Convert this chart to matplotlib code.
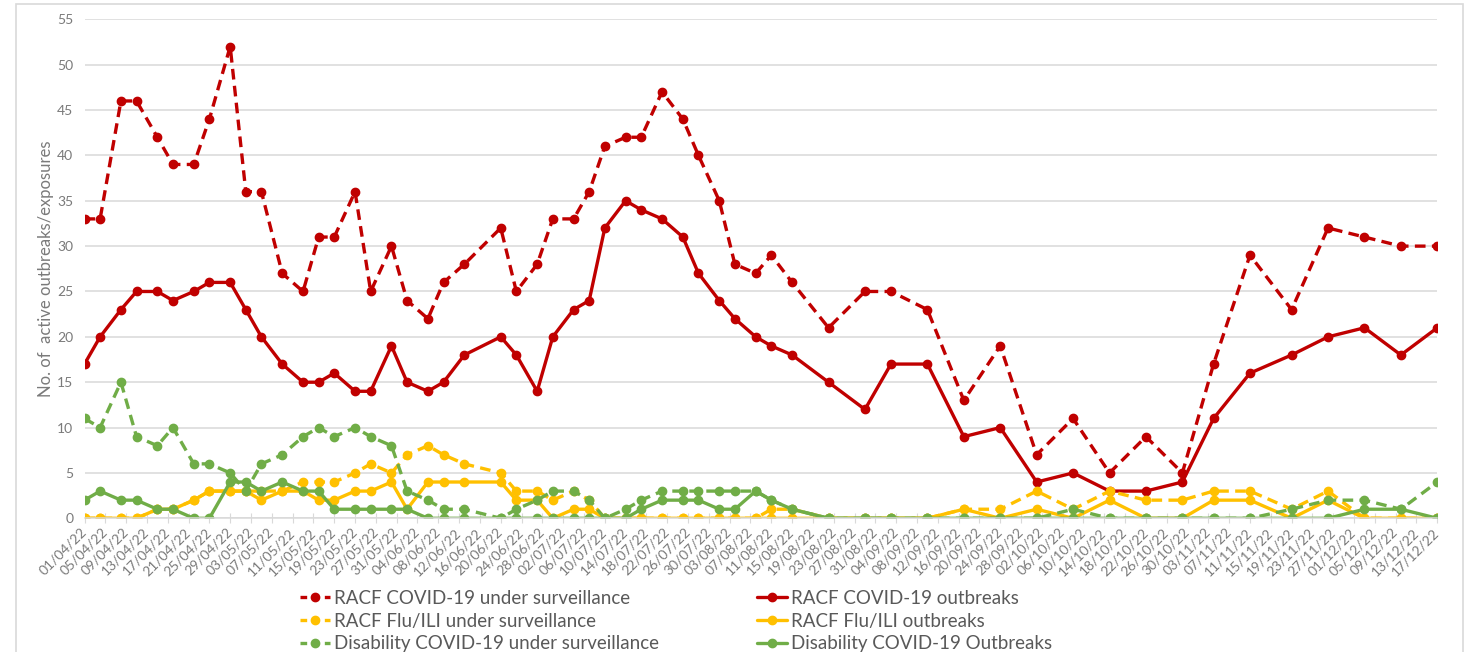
import pandas as pd
import matplotlib.pyplot as plt
from matplotlib.lines import Line2D
from matplotlib.patches import Rectangle

# reporting dates (dd/mm/yy)
dates = [
    "01/04/22", "04/04/22", "08/04/22", "11/04/22", "15/04/22", "18/04/22",
    "22/04/22", "25/04/22", "29/04/22", "02/05/22", "05/05/22", "09/05/22",
    "13/05/22", "16/05/22", "19/05/22", "23/05/22", "26/05/22", "30/05/22",
    "02/06/22", "06/06/22", "09/06/22", "13/06/22", "20/06/22", "23/06/22",
    "27/06/22", "30/06/22", "04/07/22", "07/07/22", "10/07/22", "14/07/22",
    "17/07/22", "21/07/22", "25/07/22", "28/07/22", "01/08/22", "04/08/22",
    "08/08/22", "11/08/22", "15/08/22", "22/08/22", "29/08/22", "03/09/22",
    "10/09/22", "17/09/22", "24/09/22", "01/10/22", "08/10/22", "15/10/22",
    "22/10/22", "29/10/22", "04/11/22", "11/11/22", "19/11/22", "26/11/22",
    "03/12/22", "10/12/22", "17/12/22",
]

racf_covid_surv = [
    33, 33, 46, 46, 42, 39, 39, 44, 52, 36, 36, 27, 25, 31, 31, 36, 25, 30,
    24, 22, 26, 28, 32, 25, 28, 33, 33, 36, 41, 42, 42, 47, 44, 40, 35, 28,
    27, 29, 26, 21, 25, 25, 23, 13, 19, 7, 11, 5, 9, 5, 17, 29, 23, 32,
    31, 30, 30,
]
racf_covid_outbreaks = [
    17, 20, 23, 25, 25, 24, 25, 26, 26, 23, 20, 17, 15, 15, 16, 14, 14, 19,
    15, 14, 15, 18, 20, 18, 14, 20, 23, 24, 32, 35, 34, 33, 31, 27, 24, 22,
    20, 19, 18, 15, 12, 17, 17, 9, 10, 4, 5, 3, 3, 4, 11, 16, 18, 20,
    21, 18, 21,
]
racf_flu_surv = [
    0, 0, 0, 0, 1, 1, 2, 3, 3, 3, 3, 3, 4, 4, 4, 5, 6, 5,
    7, 8, 7, 6, 5, 3, 3, 2, 3, 2, 0, 0, 0, 0, 0, 0, 0, 0,
    0, 1, 1, 0, 0, 0, 0, 1, 1, 3, 1, 3, 2, 2, 3, 3, 1, 3,
    0, 0, 0,
]
racf_flu_outbreaks = [
    0, 0, 0, 0, 1, 1, 2, 3, 3, 3, 2, 3, 3, 2, 2, 3, 3, 4,
    1, 4, 4, 4, 4, 2, 2, 0, 1, 1, 0, 0, 0, 0, 0, 0, 0, 0,
    0, 0, 0, 0, 0, 0, 0, 1, 0, 1, 0, 2, 0, 0, 2, 2, 0, 2,
    0, 0, 0,
]
disability_surv = [
    11, 10, 15, 9, 8, 10, 6, 6, 5, 3, 6, 7, 9, 10, 9, 10, 9, 8,
    3, 2, 1, 1, 0, 1, 2, 3, 3, 2, 0, 1, 2, 3, 3, 3, 3, 3,
    3, 2, 1, 0, 0, 0, 0, 0, 0, 0, 1, 0, 0, 0, 0, 0, 1, 2,
    2, 1, 4,
]
disability_outbreaks = [
    2, 3, 2, 2, 1, 1, 0, 0, 4, 4, 3, 4, 3, 3, 1, 1, 1, 1,
    1, 0, 0, 0, 0, 0, 0, 0, 0, 0, 0, 0, 1, 2, 2, 2, 1, 1,
    3, 2, 1, 0, 0, 0, 0, 0, 0, 0, 0, 0, 0, 0, 0, 0, 0, 0,
    1, 1, 0,
]

RED = "#C00000"
YELLOW = "#FFC000"
GREEN = "#70AD47"
GREY = "#7a7a7a"
LIGHT = "#d9d9d9"


def main():
    plt.rcParams["font.family"] = ["Lato", "DejaVu Sans"]
    x = pd.to_datetime(dates, format="%d/%m/%y")

    fig = plt.figure(figsize=(14.7, 6.52), dpi=100)
    W, H = 1470, 652
    ax = fig.add_axes([84.5 / W, 1 - 518.3 / H, (1437.3 - 84.5) / W, (518.3 - 19.3) / H])

    # outer chart border
    fig.add_artist(Rectangle((16 / W, -0.05), (1463 - 16) / W, 1.05 - 4 / H,
                             transform=fig.transFigure, fill=False,
                             edgecolor=LIGHT, lw=1.2))

    series = [
        ("RACF COVID-19 under surveillance", racf_covid_surv, RED, True),
        ("RACF COVID-19 outbreaks", racf_covid_outbreaks, RED, False),
        ("RACF Flu/ILI under surveillance", racf_flu_surv, YELLOW, True),
        ("RACF Flu/ILI outbreaks", racf_flu_outbreaks, YELLOW, False),
        ("Disability COVID-19 under surveillance", disability_surv, GREEN, True),
        ("Disability COVID-19 Outbreaks", disability_outbreaks, GREEN, False),
    ]
    handles = []
    for label, vals, color, dashed in series:
        kw = dict(color=color, lw=2.4, marker="o", markersize=6,
                  solid_capstyle="round", dash_capstyle="butt")
        if dashed:
            kw["dashes"] = (3.2, 1.9)
        ax.plot(x, vals, **kw)
        # legend sample: "- o -" for dashed series
        if dashed:
            kw["dashes"] = (2.0, 5.3)
        handles.append(Line2D([], [], label=label, **kw))

    start, end = pd.Timestamp("2022-04-01"), pd.Timestamp("2022-12-17")
    ax.set_xlim(start, end)
    ax.set_ylim(0, 55)
    ticks = pd.date_range(start, end, freq="4D")
    ax.set_xticks(ticks)
    ax.set_xticklabels([t.strftime("%d/%m/%y") for t in ticks], rotation=45,
                       ha="right", va="center", rotation_mode="anchor",
                       fontsize=10, color=GREY)
    ax.set_yticks(range(0, 56, 5))
    ax.tick_params(axis="y", length=0, labelsize=10, labelcolor=GREY, pad=8)
    ax.tick_params(axis="x", direction="inout", length=7, color=LIGHT, pad=5)
    ax.grid(axis="y", color=LIGHT, lw=1.1)
    ax.set_axisbelow(True)
    for side in ["top", "right", "left"]:
        ax.spines[side].set_visible(False)
    ax.spines["bottom"].set_color(LIGHT)
    ax.spines["bottom"].set_linewidth(1.1)

    ax.set_ylabel("No. of  active outbreaks/exposures", fontsize=12,
                  color=GREY, labelpad=2)

    # legend as two columns, each anchored at its own left edge
    col_kw = dict(loc="upper left", frameon=False, fontsize=13.5,
                  handlelength=1.6, handletextpad=0.2, labelspacing=0.3,
                  borderpad=0, borderaxespad=0, labelcolor="#595959")
    fig.legend(handles=handles[0::2], bbox_to_anchor=(300 / W, 1 - 590 / H),
               **col_kw)
    fig.legend(handles=handles[1::2], bbox_to_anchor=(757 / W, 1 - 590 / H),
               **col_kw)

    fig.savefig("out.png", dpi=100)


if __name__ == "__main__":
    main()
